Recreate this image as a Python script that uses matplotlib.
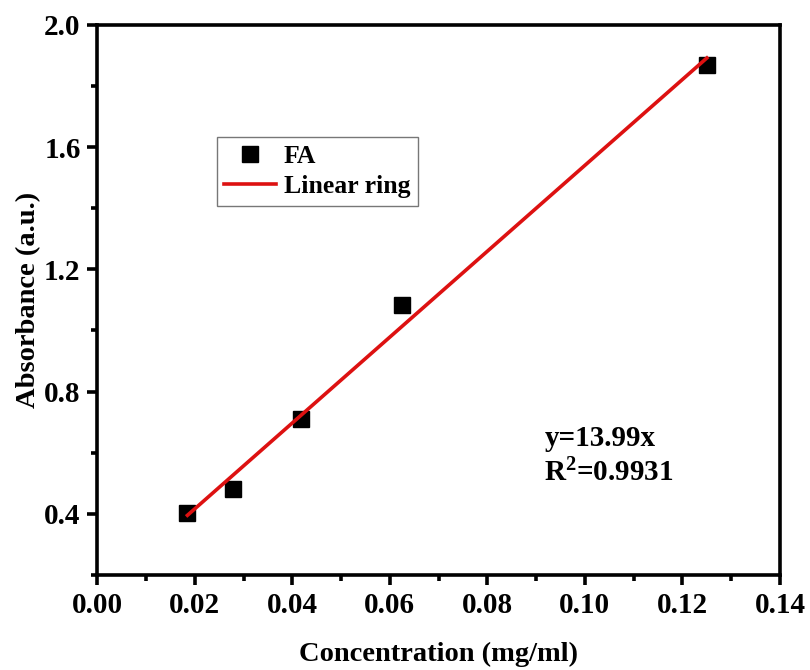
import numpy as np
import matplotlib
matplotlib.use("Agg")
import matplotlib.pyplot as plt
from matplotlib.ticker import MultipleLocator

plt.rcParams["font.family"] = ["Liberation Serif", "DejaVu Serif"]
plt.rcParams["font.weight"] = "bold"
plt.rcParams["mathtext.fontset"] = "custom"
plt.rcParams["mathtext.rm"] = "Liberation Serif:bold"
plt.rcParams["mathtext.it"] = "Liberation Serif:bold"
plt.rcParams["mathtext.bf"] = "Liberation Serif:bold"

# FA standard curve
conc = [0.0185, 0.0278, 0.0417, 0.0625, 0.125]
absorb = [0.403, 0.482, 0.709, 1.083, 1.869]
eq_text = "y=13.99x\nR$^{\\mathrm{2}}$=0.9931"

slope, icpt = np.polyfit(conc, absorb, 1)
xfit = np.array([min(conc), max(conc)])
yfit = slope * xfit + icpt

fig = plt.figure(figsize=(8.1, 6.7), dpi=100)
ax = fig.add_axes([0.12, 0.142, 0.843, 0.821])

ax.plot(conc, absorb, "s", color="black", markersize=11, label="FA", zorder=3)
ax.plot(xfit, yfit, color="#dd1111", lw=2.6, label="Linear ring", zorder=4)

ax.set_xlim(0, 0.14)
ax.set_ylim(0.2, 2.0)
ax.xaxis.set_minor_locator(MultipleLocator(0.01))
ax.yaxis.set_minor_locator(MultipleLocator(0.2))
ax.set_xticks([0.0, 0.02, 0.04, 0.06, 0.08, 0.10, 0.12, 0.14])
ax.set_xticklabels(["0.00", "0.02", "0.04", "0.06", "0.08", "0.10", "0.12", "0.14"])
ax.set_yticks([0.4, 0.8, 1.2, 1.6, 2.0])
ax.set_yticklabels(["0.4", "0.8", "1.2", "1.6", "2.0"])

for s in ax.spines.values():
    s.set_linewidth(2.6)
ax.tick_params(which="major", direction="out", length=7, width=2.6,
               labelsize=21, pad=5)
ax.tick_params(which="minor", direction="out", length=4, width=2.6)

ax.set_xlabel("Concentration (mg/ml)", fontsize=20.5, fontweight="bold", labelpad=17)
ax.set_ylabel("Absorbance (a.u.)", fontsize=20.5, fontweight="bold", labelpad=2)

leg = ax.legend(loc="upper left", bbox_to_anchor=(0.175, 0.796), fontsize=18.5,
                frameon=True, fancybox=False, edgecolor="#555555",
                handlelength=2.0, handletextpad=0.3, borderpad=0.3,
                labelspacing=0.3, borderaxespad=0)
leg.get_frame().set_linewidth(1.0)

ax.text(0.655, 0.16, eq_text, transform=ax.transAxes, fontsize=21,
        fontweight="bold", va="bottom", ha="left", linespacing=1.3)

fig.savefig("out.png", dpi=100)
